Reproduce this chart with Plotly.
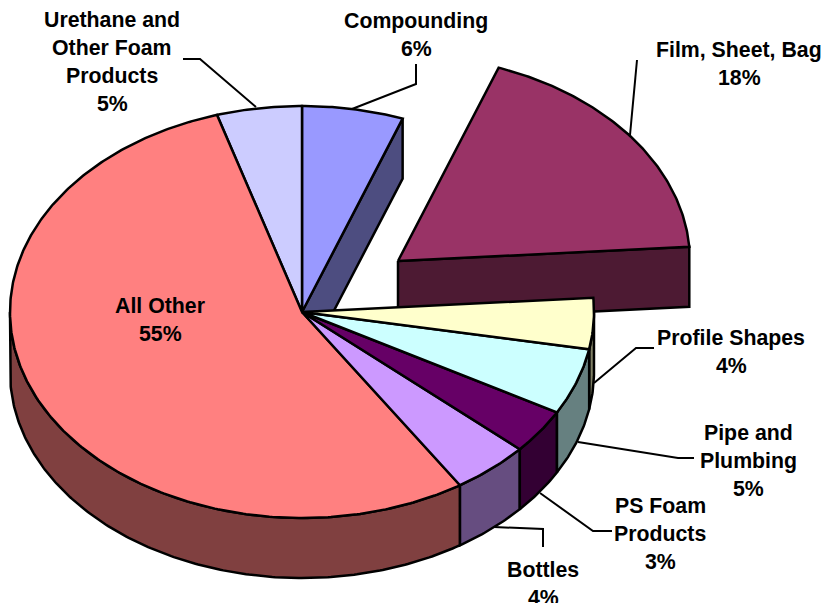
import numpy as np
import plotly.graph_objects as go

categories = ["Compounding", "Film, Sheet, Bag", "Profile Shapes", "Pipe and Plumbing",
              "PS Foam Products", "Bottles", "All Other", "Urethane and Other Foam Products"]
values = [5.6, 18.3, 4.0, 5.2, 3.5, 4.3, 54.4, 4.7]
percent_labels = ["6%", "18%", "4%", "5%", "3%", "4%", "55%", "5%"]
top_colors = ["#9999FF", "#993366", "#FFFFCC", "#CCFFFF", "#660066", "#CC99FF", "#FF8080", "#CCCCFF"]
side_colors = ["#4D4D80", "#4D1A33", "#808066", "#668080", "#330033", "#664D80", "#804040", "#666680"]

# label lines, anchor centre x, first-line y
label_lines = [
    (["Compounding", "6%"], 416, 21),
    (["Film, Sheet, Bag", "18%"], 739, 50),
    (["Profile Shapes", "4%"], 731, 338),
    (["Pipe and", "Plumbing", "5%"], 748, 433),
    (["PS Foam", "Products", "3%"], 660, 506),
    (["Bottles", "4%"], 543, 570),
    (["All Other", "55%"], 160, 306),
    (["Urethane and", "Other Foam", "Products", "5%"], 112, 20),
]
leaders = [
    ([416, 416, 352], [64, 84, 109]),
    ([637, 637, 630], [60, 60, 135]),
    ([654, 636, 594], [348, 348, 383]),
    ([694, 678, 578], [458, 458, 442]),
    ([612, 593, 540], [531, 531, 493]),
    ([543, 543, 494], [547, 529, 527]),
    ([183, 200, 256], [59, 59, 107]),
]

CX, CY, RX, RY, DEPTH = 302, 312, 292, 206, 60
EXPLODE = (96, -51)
LW = 2.5

edges = np.concatenate([[0], np.cumsum(values)]) / sum(values) * 2 * np.pi


def pt(t, off=(0, 0), dz=0):
    t = np.asarray(t)
    return CX + off[0] + RX * np.sin(t), CY + off[1] - RY * np.cos(t) + dz


def poly(fig, x, y, color):
    fig.add_trace(go.Scatter(x=list(x) + [x[0]], y=list(y) + [y[0]], mode="lines", fill="toself",
                             fillcolor=color, line=dict(color="black", width=LW),
                             hoverinfo="skip", showlegend=False))


def arc(a, b):
    n = max(int(abs(b - a) / 0.01), 2)
    return np.linspace(a, b, n)


def wall(fig, i, off=(0, 0)):
    a, b = edges[i], edges[i + 1]
    lo, hi = max(a, np.pi / 2), min(b, 3 * np.pi / 2)
    if hi > lo:
        t = arc(lo, hi)
        x1, y1 = pt(t, off)
        x2, y2 = pt(t[::-1], off, DEPTH)
        poly(fig, np.r_[x1, x2], np.r_[y1, y2], side_colors[i])


def cut_face(fig, t, i, off=(0, 0)):
    ex, ey = pt(t, off)
    cx, cy = CX + off[0], CY + off[1]
    poly(fig, [cx, float(ex), float(ex), cx], [cy, float(ey), float(ey) + DEPTH, cy + DEPTH], side_colors[i])


def top(fig, i, off=(0, 0)):
    x, y = pt(arc(edges[i], edges[i + 1]), off)
    poly(fig, np.r_[CX + off[0], x], np.r_[CY + off[1], y], top_colors[i])


fig = go.Figure()

for x, y in leaders:
    fig.add_trace(go.Scatter(x=x, y=y, mode="lines", line=dict(color="black", width=2),
                             hoverinfo="skip", showlegend=False))

# exploded slice, furthest back
cut_face(fig, edges[2], 1, EXPLODE)
wall(fig, 1, EXPLODE)
top(fig, 1, EXPLODE)

# remaining pie: side faces back to front, then tops
cut_face(fig, edges[1], 0)
for i in [2, 6, 5, 4, 3]:
    wall(fig, i)
for i in [0, 7, 6, 5, 4, 3, 2]:
    top(fig, i)

annotations = []
for lines, xc, y0 in label_lines:
    for k, s in enumerate(lines):
        annotations.append(dict(x=xc, y=y0 + 28 * k, text="<b>" + s + "</b>", showarrow=False,
                                xanchor="center", yanchor="middle",
                                font=dict(family="Liberation Sans", size=21.3, color="black")))

fig.update_layout(
    width=823, height=603, margin=dict(l=0, r=0, t=0, b=0),
    paper_bgcolor="white", plot_bgcolor="white", showlegend=False,
    xaxis=dict(range=[0, 823], visible=False, fixedrange=True),
    yaxis=dict(range=[603, 0], visible=False, fixedrange=True),
    annotations=annotations,
)
fig.write_html("out.html", config={"displayModeBar": False},
               post_script="document.body.style.margin='0';document.body.style.overflow='hidden';")
